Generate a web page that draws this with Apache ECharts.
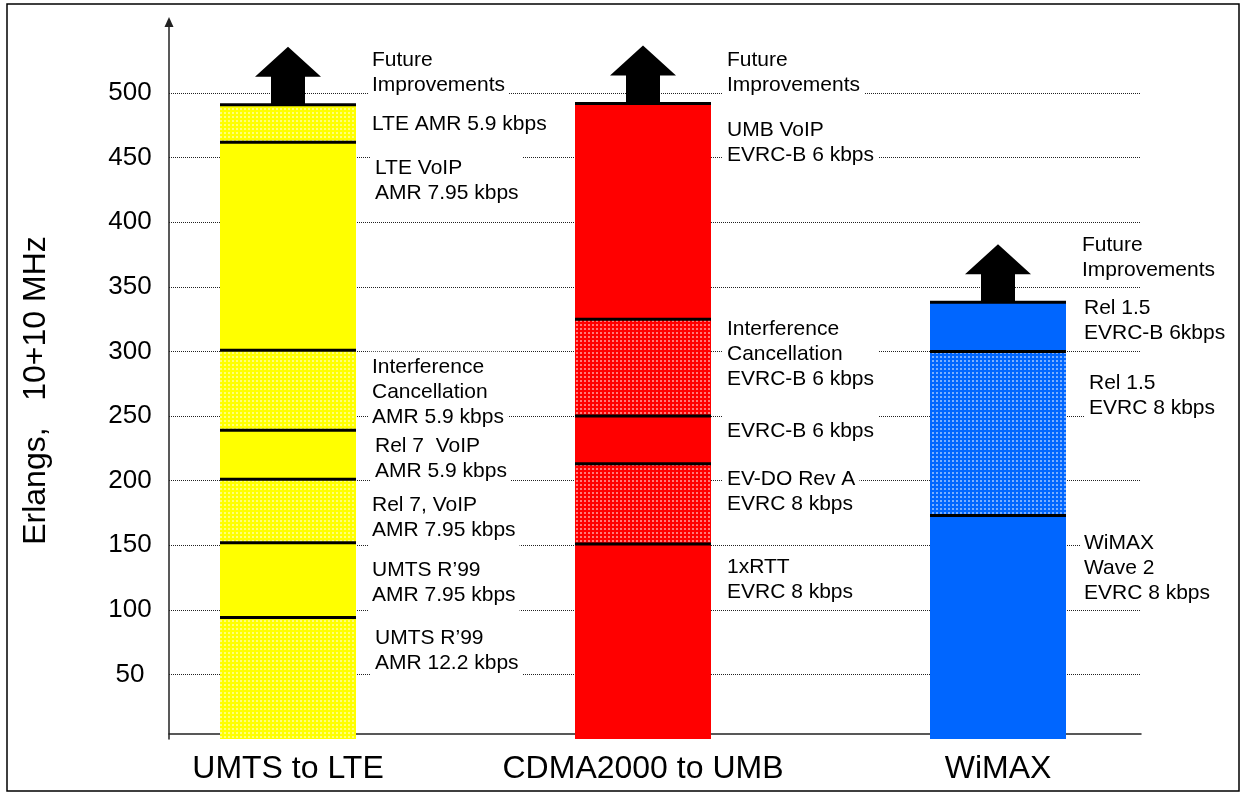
<!DOCTYPE html>
<html><head><meta charset="utf-8">
<script src="https://cdn.jsdelivr.net/npm/echarts@6/dist/echarts.min.js"></script>
<style>html,body{margin:0;padding:0;background:#fff}#c{width:1243px;height:793px}</style>
</head><body><div id="c"></div>
<script>
// ---------------- data ----------------
const categories = ['UMTS to LTE', 'CDMA2000 to UMB', 'WiMAX'];
const yTicks = [50, 100, 150, 200, 250, 300, 350, 400, 450, 500];

// cumulative capacity (Erlangs) at the top of each step, bottom to top
const umtsTops = [94, 152, 201, 239, 301, 462, 491];
const umtsLabels = ['UMTS R’99\nAMR 12.2 kbps', 'UMTS R’99\nAMR 7.95 kbps', 'Rel 7, VoIP\nAMR 7.95 kbps',
  'Rel 7  VoIP\nAMR 5.9 kbps', 'Interference\nCancellation\nAMR 5.9 kbps', 'LTE VoIP\nAMR 7.95 kbps', 'LTE AMR 5.9 kbps'];
const umtsDotted = [true, false, true, false, true, false, true];

const cdmaTops = [151, 213, 250, 325, 492];
const cdmaLabels = ['1xRTT\nEVRC 8 kbps', 'EV-DO Rev A\nEVRC 8 kbps', 'EVRC-B 6 kbps',
  'Interference\nCancellation\nEVRC-B 6 kbps', 'UMB VoIP\nEVRC-B 6 kbps'];
const cdmaDotted = [false, true, false, true, false];

const wimaxTops = [173, 300, 338];
const wimaxLabels = ['WiMAX\nWave 2\nEVRC 8 kbps', 'Rel 1.5\nEVRC 8 kbps', 'Rel 1.5\nEVRC-B 6kbps'];
const wimaxDotted = [false, true, false];

const futureLabel = 'Future\nImprovements';
const yName = 'Erlangs,   10+10 MHz';

// ---------------- style / layout ----------------
const FONT = "'Liberation Sans', Arial, Helvetica, sans-serif";
const BAR_W = 136;
const Y_MAX = 555;
const GRID_TOP = 22, GRID_BOTTOM = 54;
const dotDecal = (p, g) => ({ symbol: 'rect', symbolSize: 0.8, dashArrayX: [p, g], dashArrayY: [p, g], color: 'rgba(255,255,255,0.8)' });

const groups = [
  { tops: umtsTops, labels: umtsLabels, dotted: umtsDotted, color: '#ffff00', decal: dotDecal(2, 2),
    nudge: [[3, -28], [0, 3], [0, 7], [3, 4], [0, 2], [3, -65], [0, 1]], futureDy: -3 },
  { tops: cdmaTops, labels: cdmaLabels, dotted: cdmaDotted, color: '#ff0000', decal: dotDecal(2, 1.4),
    nudge: [[0, -62], [0, -12], [0, -9], [0, -13], [0, -69]], futureDy: -2 },
  { tops: wimaxTops, labels: wimaxLabels, dotted: wimaxDotted, color: '#0066ff', decal: dotDecal(2, 1.4),
    nudge: [[2, -59], [7, -38], [2, -6]], futureDy: -16 }
];

const labelStyle = {
  fontFamily: FONT, fontSize: 21, lineHeight: 25, color: '#000',
  backgroundColor: '#fff', padding: [3, 4]
};

const series = [];
groups.forEach((g, ci) => {
  g.tops.forEach((top, si) => {
    const base = si === 0 ? 0 : g.tops[si - 1];
    const s = {
      type: 'bar', stack: 'total', xAxisIndex: 0, yAxisIndex: 0, barWidth: BAR_W, z: 2,
      silent: true, emphasis: { disabled: true },
      data: categories.map((_, k) => (k === ci ? top - base : '-')),
      itemStyle: { color: g.color, opacity: 1 },
      label: Object.assign({ show: true, position: 'right', distance: 12, offset: g.nudge[si],
        formatter: g.labels[si] }, labelStyle)
    };
    if (g.dotted[si]) s.itemStyle.decal = g.decal;
    series.push(s);
  });
});

// black step boundaries
series.push({
  type: 'scatter', xAxisIndex: 0, yAxisIndex: 0, z: 3, silent: true,
  symbol: 'rect', symbolSize: [BAR_W, 3], itemStyle: { color: '#000', opacity: 1 },
  emphasis: { disabled: true },
  data: groups.flatMap((g, ci) => g.tops.map(t => [ci, t]))
});

// "future improvements" arrows
series.push({
  type: 'scatter', xAxisIndex: 0, yAxisIndex: 0, z: 4, silent: true,
  symbol: 'path://M33 0 L66 30 L50 30 L50 58 L16 58 L16 30 L0 30 Z',
  symbolSize: [66, 58], symbolOffset: [0, '-50%'], itemStyle: { color: '#000', opacity: 1 },
  emphasis: { disabled: true },
  label: Object.assign({ show: true, position: 'right', distance: 47, formatter: futureLabel }, labelStyle),
  data: groups.map((g, ci) => ({ value: [ci, g.tops[g.tops.length - 1]], label: { offset: [0, g.futureDy] } }))
});

// dotted gridlines
series.push({
  type: 'line', xAxisIndex: 1, yAxisIndex: 1, data: [], silent: true,
  markLine: {
    silent: true, symbol: 'none', z: 1, animation: false,
    label: { show: false },
    lineStyle: { type: [1, 1], color: '#222', width: 1 },
    data: yTicks.map(v => ({ yAxis: v }))
  }
});

const option = {
  animation: false,
  backgroundColor: '#fff',
  grid: [
    { left: 110.5, right: 67.5, top: GRID_TOP, bottom: GRID_BOTTOM },
    { left: 169, right: 102, top: GRID_TOP, bottom: GRID_BOTTOM }
  ],
  xAxis: [
    { type: 'category', gridIndex: 0, data: categories,
      axisLine: { show: false }, axisTick: { show: false }, splitLine: { show: false },
      axisLabel: { fontFamily: FONT, fontSize: 32, color: '#000', margin: 14, interval: 0, hideOverlap: false } },
    { type: 'value', gridIndex: 1, min: 0, max: 1, offset: -5,
      axisLine: { show: true, lineStyle: { color: '#222', width: 1.5 } },
      axisTick: { show: false }, axisLabel: { show: false }, splitLine: { show: false } }
  ],
  yAxis: [
    { type: 'value', gridIndex: 0, min: 0, max: Y_MAX, show: false, splitLine: { show: false } },
    { type: 'value', gridIndex: 1, min: 0, max: Y_MAX, interval: 50,
      name: yName, nameLocation: 'middle', nameGap: 117, nameRotate: 90,
      nameTextStyle: { fontFamily: FONT, fontSize: 32, color: '#000', padding: [0, 20, 0, 0] },
      axisLine: { show: true, symbol: ['none', 'triangle'], symbolSize: [9, 10],
        lineStyle: { color: '#222', width: 1.5 } },
      axisTick: { show: false }, splitLine: { show: false },
      axisLabel: { fontFamily: FONT, fontSize: 26, color: '#000', align: 'center', margin: 39,
        padding: [0, 0, 14, 0], formatter: v => (yTicks.includes(v) ? String(v) : '') } }
  ],
  graphic: [{
    type: 'rect', silent: true, z: 100,
    shape: { x: 7, y: 4, width: 1232, height: 787 },
    style: { fill: 'none', stroke: '#000', lineWidth: 1.5 }
  }],
  series
};

const chart = echarts.init(document.getElementById('c'), null, { renderer: 'canvas' });
chart.setOption(option);
</script>
</body></html>
